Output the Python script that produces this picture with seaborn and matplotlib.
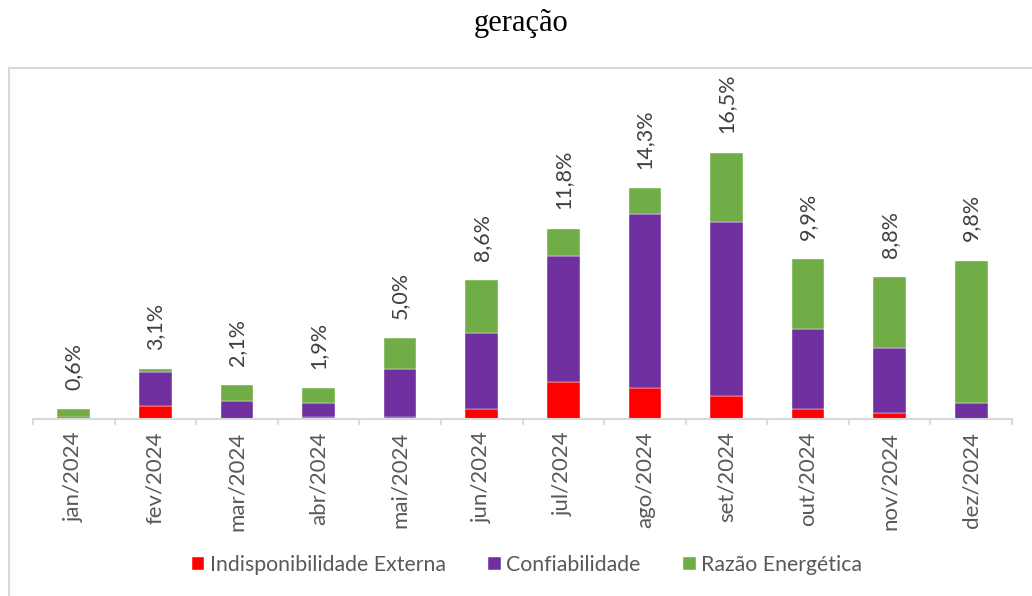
import matplotlib.pyplot as plt
import numpy as np
import pandas as pd
import seaborn as sns
from matplotlib.patches import Rectangle

meses = ["jan/2024", "fev/2024", "mar/2024", "abr/2024", "mai/2024", "jun/2024",
         "jul/2024", "ago/2024", "set/2024", "out/2024", "nov/2024", "dez/2024"]
indisp_externa = [0.0, 0.8, 0.0, 0.1, 0.1, 0.6, 2.3, 1.9, 1.4, 0.6, 0.4, 0.0]
confiabilidade = [0.1, 2.1, 1.1, 0.9, 3.0, 4.7, 7.8, 10.8, 10.8, 5.0, 4.0, 1.0]
razao_energetica = [0.5, 0.2, 1.0, 0.9, 1.9, 3.3, 1.7, 1.6, 4.3, 4.3, 4.4, 8.8]
totais = ["0,6%", "3,1%", "2,1%", "1,9%", "5,0%", "8,6%",
          "11,8%", "14,3%", "16,5%", "9,9%", "8,8%", "9,8%"]

series = {
    "Indisponibilidade Externa": (indisp_externa, "#FF0000"),
    "Confiabilidade": (confiabilidade, "#7030A0"),
    "Razão Energética": (razao_energetica, "#70AD47"),
}

sns.set_style("white")
plt.rcParams["font.family"] = ["Lato", "DejaVu Sans"]

W, H = 1032, 596
fig = plt.figure(figsize=(W / 100, H / 100), dpi=100)

# chart frame (light gray border, cut off right/bottom like the screenshot)
fig.add_artist(Rectangle((9 / W, -0.1), 1.2, 1 - 68 / H + 0.1,
                         transform=fig.transFigure, fill=False,
                         edgecolor="#D9D9D9", linewidth=1.5))

ax_left, ax_right = 33, 1012
base_y, top_y = 419, 80
ax = fig.add_axes([ax_left / W, 1 - base_y / H,
                   (ax_right - ax_left) / W, (base_y - top_y) / H])

px_per_pct = 16.14
ax.set_ylim(0, (base_y - top_y) / px_per_pct)

bottom = np.zeros(len(meses))
for nome, (vals, cor) in series.items():
    df = pd.DataFrame({"mes": meses, "valor": vals})
    ax.bar(df["mes"], df["valor"], bottom=bottom, width=0.4, color=cor,
           label=nome, edgecolor="white", linewidth=0.3)
    bottom += np.array(vals)

for i, (tot, lab) in enumerate(zip(bottom, totais)):
    ax.annotate(lab, (i, tot), xytext=(0, 14), textcoords="offset points",
                rotation=90, ha="center", va="bottom", fontsize=15.5,
                color="#404040")

ax.set_xlim(-0.5, len(meses) - 0.5)
ax.set_xticks(range(len(meses)))
ax.set_xticklabels(meses, rotation=90, fontsize=16, color="#595959")
ax.tick_params(axis="x", length=0, pad=9)
ax.set_yticks([])
sns.despine(ax=ax, left=True, top=True, right=True)
ax.spines["bottom"].set_color("#D9D9D9")
ax.spines["bottom"].set_linewidth(1.5)
for b in np.arange(-0.5, len(meses), 1.0):
    ax.plot([b, b], [0, -5 / px_per_pct], color="#D9D9D9", lw=1.5,
            clip_on=False)

handles, labels = ax.get_legend_handles_labels()
fig.legend(handles, labels, loc="center", bbox_to_anchor=(527 / W, 1 - 565 / H),
           ncol=3, frameon=False, fontsize=15.3, handlelength=0.6,
           handleheight=0.6, handletextpad=0.25, columnspacing=2.0,
           labelcolor="#595959")

fig.text(521 / W, 1 - 23 / H, "geração", ha="center", va="center",
         fontsize=22, family=["Liberation Serif", "DejaVu Serif"],
         color="black")

fig.savefig("out.png", dpi=100)
